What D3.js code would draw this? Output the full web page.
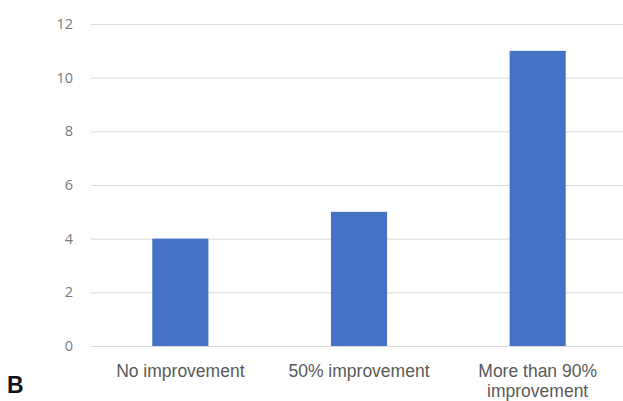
<!DOCTYPE html>
<html>

<head>
    <script type="text/javascript" src="https://d3js.org/d3.v7.min.js"></script>
    <style>
        body { margin: 0; background: #fff; }
    </style>
</head>

<body>
    <script>

        var categories = ['No improvement', '50% improvement', 'More than 90% improvement']
        var labelLines = [['No improvement'], ['50% improvement'], ['More than 90%', 'improvement']]
        var values = [4, 5, 11]
        var yTicks = [0, 2, 4, 6, 8, 10, 12]
        var panelLabel = 'B'

        var w = 623, h = 401
        var svg = d3.select('body').append('svg')
        svg.attr('width', w).attr('height', h)

        let xscale = d3.scaleBand()
            .domain(categories)
            .range([91, 627])
            .paddingInner(0.686)
            .paddingOuter(0.343)

        let yscale = d3.scaleLinear()
            .domain([0, 12])
            .range([346, 24])

        // gridlines + y labels
        var yAxis = svg.append("g")
            .attr("transform", "translate(91,0)")
            .call(d3.axisLeft(yscale).tickValues(yTicks).tickSize(-536).tickPadding(18))
        yAxis.select(".domain").remove()
        yAxis.selectAll("line").attr("stroke", "#d9d9d9").attr("stroke-width", 1)
        yAxis.selectAll("text")
            .attr("font-family", "'Open Sans', sans-serif")
            .attr("font-size", "14.5px")
            .attr("fill", "#7a7a7a")

        svg.selectAll(".bar")
            .data(values)
            .enter()
            .append("rect")
            .attr("class", "bar")
            .attr("x", (d, i) => xscale(categories[i]))
            .attr("y", d => yscale(d))
            .attr("width", xscale.bandwidth())
            .attr("height", d => yscale(0) - yscale(d))
            .attr("fill", "#4472c4")

        // x labels
        var xl = svg.selectAll(".xlab")
            .data(categories)
            .enter()
            .append("text")
            .attr("class", "xlab")
            .attr("x", d => xscale(d) + xscale.bandwidth() / 2)
            .attr("y", 377)
            .attr("text-anchor", "middle")
            .attr("font-family", "'Liberation Sans', Arial, sans-serif")
            .attr("font-size", "17.5px")
            .attr("fill", "#595959")

        xl.each(function (d, i) {
            var t = d3.select(this)
            labelLines[i].forEach(function (line, j) {
                t.append("tspan")
                    .attr("x", xscale(d) + xscale.bandwidth() / 2)
                    .attr("dy", j == 0 ? 0 : 20)
                    .text(line)
            })
        })

        svg.append("text")
            .attr("x", 7)
            .attr("y", 393)
            .attr("font-family", "'Liberation Sans', Arial, sans-serif")
            .attr("font-weight", "bold")
            .attr("font-size", "23px")
            .attr("fill", "#111")
            .text(panelLabel)

    </script>
</body>
